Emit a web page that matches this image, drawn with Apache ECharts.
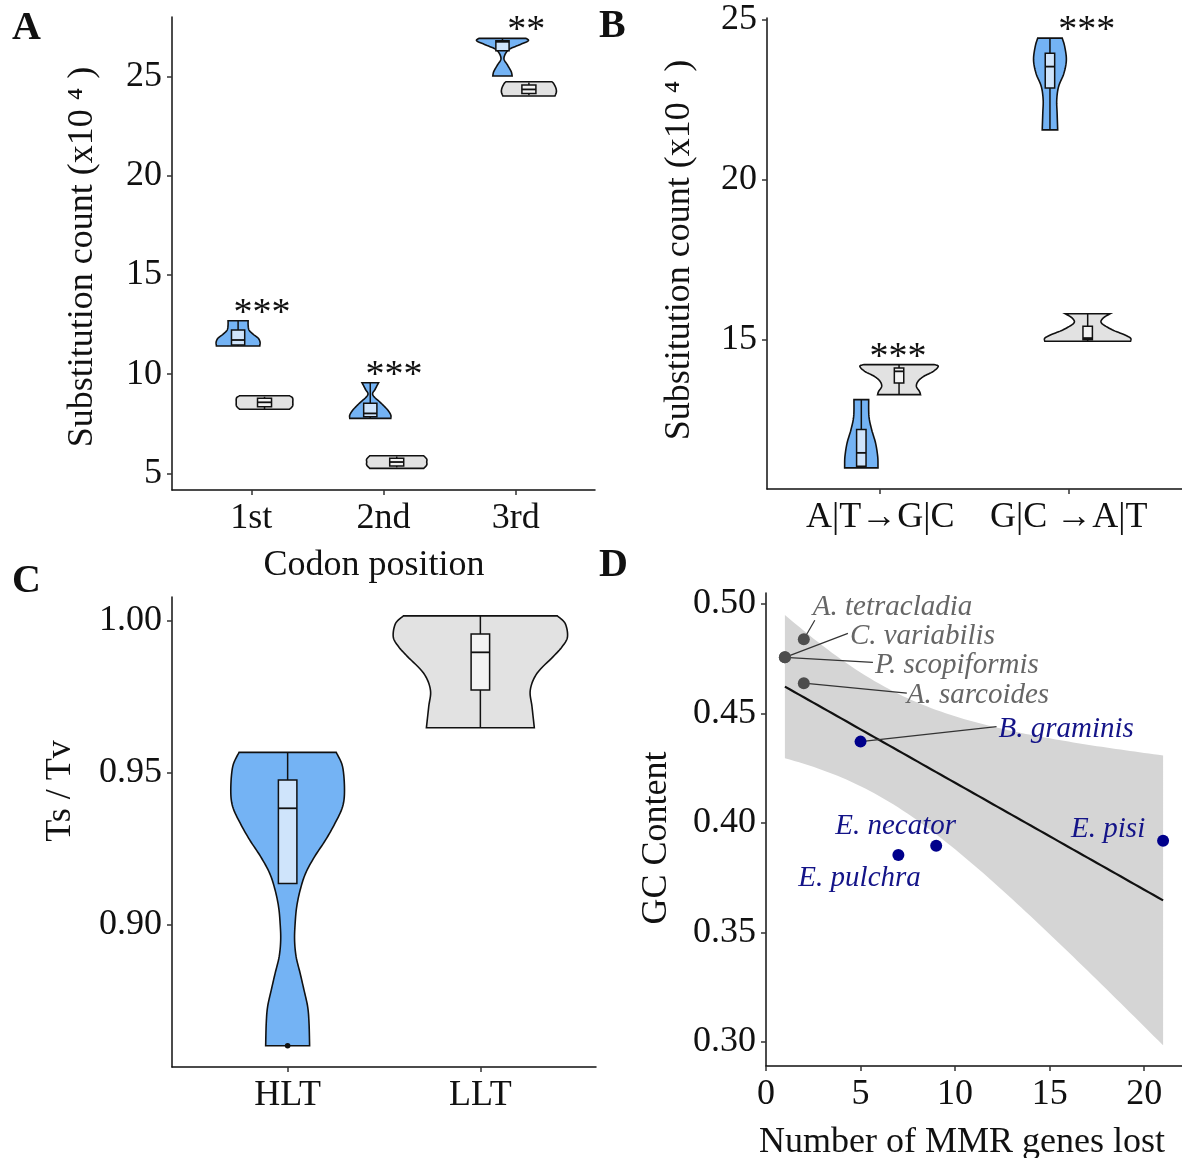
<!DOCTYPE html>
<html>
<head>
<meta charset="utf-8">
<title>Substitutions and GC content</title>
<script src="https://cdn.jsdelivr.net/npm/echarts@6/dist/echarts.min.js"></script>
<style>
  html, body { margin: 0; padding: 0; background: #fff; }
  #main { width: 1182px; height: 1158px; }
</style>
</head>
<body>
<div id="main"></div>
<script>
var FONT = '"Liberation Serif", "Times New Roman", serif';
var BLUE = '#74b3f4', BLUE_BOX = '#cfe4fb', GREY = '#e2e2e2', GREY_BOX = '#f3f3f3';

// ---- A: substitution count (x10^4) by codon position ----
var codonCats = ['1st', '2nd', '3rd'];
// violin outlines, bottom to top: [value, half width in category units]
var codonHLT = [
    [[11.42,0.164],[11.62,0.166],[11.82,0.151],[12.02,0.113],[12.22,0.083],[12.47,0.076],[12.69,0.076]],
    [[7.77,0.155],[7.94,0.155],[8.19,0.132],[8.53,0.083],[8.95,0.019],[9.25,0.038],[9.567,0.063]],
    [[25.03,0.073],[25.25,0.066],[25.58,0.038],[25.92,0.011],[26.34,0.045],[26.59,0.126],[26.80,0.195],[26.925,0.178]]
];
var codonLLT = [
    [[8.23,0.189],[8.39,0.212],[8.59,0.214],[8.80,0.212],[8.91,0.189]],
    [[5.25,0.204],[5.42,0.227],[5.57,0.227],[5.72,0.227],[5.887,0.204]],
    [[24.02,0.197],[24.22,0.208],[24.42,0.204],[24.63,0.189],[24.74,0.174]]
];
// box stats: [low whisker, q1, median, q3, high whisker]
var codonHLTBox = [[11.42,11.47,11.72,12.22,12.69],[7.77,7.85,8.02,8.53,9.567],[26.30,26.30,26.75,26.80,26.925]];
var codonLLTBox = [[8.23,8.36,8.58,8.78,8.86],[5.30,5.37,5.57,5.756,5.85],[24.05,24.15,24.35,24.57,24.70]];
var codonSig = ['***', '***', '**'];

// ---- B: substitution count by direction ----
var dirCats = ['A|T\u2192G|C', 'G|C \u2192A|T'];
var dirHLT = [
    [[10.99,0.0884],[11.04,0.0884],[11.35,0.0868],[11.77,0.0754],[12.19,0.0546],[12.60,0.0405],[13.125,0.039]],
    [[21.56,0.041],[22.08,0.038],[22.50,0.036],[22.92,0.046],[23.33,0.074],[23.75,0.087],[24.17,0.078],[24.43,0.065]]
];
var dirLLT = [
    [[13.28,0.114],[13.385,0.108],[13.54,0.092],[13.70,0.101],[13.85,0.130],[14.01,0.182],[14.167,0.208],[14.22,0.187]],
    [[14.95,0.227],[15.05,0.227],[15.16,0.192],[15.31,0.130],[15.52,0.073],[15.68,0.083],[15.81,0.119]]
];
var dirHLTBox = [[10.99,11.04,11.46,12.19,13.125],[21.56,22.87,23.54,23.96,24.43]];
var dirLLTBox = [[13.28,13.647,14.01,14.115,14.22],[14.95,15.00,15.05,15.42,15.81]];
var dirSig = ['***', '***'];

// ---- C: Ts / Tv ----
var ltCats = ['HLT', 'LLT'];
var tstvProfiles = [
    [[0.8603,0.114],[0.8677,0.111],[0.8731,0.104],[0.8786,0.085],[0.8841,0.065],[0.8896,0.044],[0.8951,0.036],
     [0.9006,0.039],[0.9060,0.047],[0.9115,0.065],[0.9170,0.093],[0.9225,0.140],[0.9280,0.197],[0.9335,0.246],
     [0.9389,0.285],[0.9444,0.295],[0.9521,0.285],[0.9568,0.252]],
    [[0.9649,0.280],[0.9718,0.268],[0.9773,0.259],[0.9828,0.294],[0.9883,0.378],[0.9916,0.425],[0.9948,0.452],
     [0.9992,0.440],[1.0017,0.399]]
];
var tstvBoxes = [[0.9137,0.9137,0.9384,0.9477,0.9568],[0.9649,0.9773,0.9897,0.9957,1.0017]];
var tstvOutliers = [[0.8603], []];

// ---- D: GC content vs MMR genes lost ----
var species = ['A. tetracladia','C. variabilis','P. scopiformis','A. sarcoides','B. graminis','E. necator','E. pulchra','E. pisi'];
var mmrLost = [2, 1, 1, 2, 5, 9, 7, 21];
var gcContent = [0.4839, 0.4756, 0.4756, 0.4638, 0.4371, 0.3895, 0.3853, 0.3918];
var speciesGroup = ['LLT','LLT','LLT','LLT','HLT','HLT','HLT','HLT'];
// label placement in px from the point: [dx, dy, lineEndDx, lineEndDy]
var labelNudge = [[9,-32,11,-19],[65,-21,63,-24],[90,8,88,5],[103,12,103,10],[138,-12,136,-15],[-101,-19],[-100,23],[-92,-11]];

function spline(pts) {
    if (pts.length < 3) return pts;
    var out = [], n = 8;
    for (var i = 0; i < pts.length - 1; i++) {
        var p0 = pts[Math.max(i - 1, 0)], p1 = pts[i], p2 = pts[i + 1], p3 = pts[Math.min(i + 2, pts.length - 1)];
        for (var k = 0; k < n; k++) {
            var t = k / n, t2 = t * t, t3 = t2 * t;
            out.push([0, 1].map(function (d) {
                return 0.5 * (2 * p1[d] + (p2[d] - p0[d]) * t +
                    (2 * p0[d] - 5 * p1[d] + 4 * p2[d] - p3[d]) * t2 +
                    (3 * p1[d] - p0[d] - 3 * p2[d] + p3[d]) * t3);
            }));
        }
    }
    out.push(pts[pts.length - 1]);
    return out;
}

function violinSeries(ax, profiles, boxes, xs, fill, boxFill, boxHalf, outliers) {
    return {
        type: 'custom', xAxisIndex: ax, yAxisIndex: ax, clip: false, z: 3,
        data: xs.map(function (x, i) { return [x, boxes[i][2]]; }),
        renderItem: function (params, api) {
            var i = params.dataIndex, xc = api.value(0), prof = profiles[i], b = boxes[i];
            var p = function (dx, v) { return api.coord([xc + dx, v]); };
            var right = prof.map(function (d) { return p(d[1], d[0]); });
            var left = prof.map(function (d) { return p(-d[1], d[0]); });
            var outline = spline(right).concat(spline(left).reverse());
            var lo = p(0, b[0]), q1 = p(0, b[1]), q3 = p(0, b[3]), hi = p(0, b[4]);
            var tl = p(-boxHalf, b[3]), br = p(boxHalf, b[1]);
            var ml = p(-boxHalf, b[2]), mr = p(boxHalf, b[2]);
            var st = { stroke: '#111', lineWidth: 1.5 };
            var kids = [
                { type: 'polygon', shape: { points: outline }, style: { fill: fill, stroke: '#111', lineWidth: 1.6 } },
                { type: 'line', shape: { x1: hi[0], y1: hi[1], x2: q3[0], y2: q3[1] }, style: st },
                { type: 'line', shape: { x1: q1[0], y1: q1[1], x2: lo[0], y2: lo[1] }, style: st },
                { type: 'rect', shape: { x: tl[0], y: tl[1], width: br[0] - tl[0], height: br[1] - tl[1] },
                  style: { fill: boxFill, stroke: '#111', lineWidth: 1.5 } },
                { type: 'line', shape: { x1: ml[0], y1: ml[1], x2: mr[0], y2: mr[1] }, style: { stroke: '#111', lineWidth: 1.8 } }
            ];
            ((outliers && outliers[i]) || []).forEach(function (v) {
                var o = p(0, v);
                kids.push({ type: 'circle', shape: { cx: o[0], cy: o[1], r: 2.8 }, style: { fill: '#111' } });
            });
            return { type: 'group', children: kids };
        }
    };
}

function sigSeries(ax, profA, profB, labels, shift) {
    return {
        type: 'custom', xAxisIndex: ax, yAxisIndex: ax, clip: false, z: 4,
        data: labels.map(function (s, i) {
            var top = Math.max(profA[i][profA[i].length - 1][0], profB[i][profB[i].length - 1][0]);
            return [i + 1 + shift, top];
        }),
        renderItem: function (params, api) {
            var pt = api.coord([api.value(0), api.value(1)]);
            return { type: 'text', x: pt[0], y: pt[1] - 7,
                style: { text: labels[params.dataIndex], fontSize: 38, fontFamily: FONT, fill: '#111',
                         align: 'center', verticalAlign: 'middle' } };
        }
    };
}

// least squares fit with 95% confidence band (t, df = 6)
function olsBand(xs, ys) {
    var n = xs.length, mx = 0, my = 0, sxx = 0, sxy = 0, sse = 0, i;
    for (i = 0; i < n; i++) { mx += xs[i] / n; my += ys[i] / n; }
    for (i = 0; i < n; i++) { sxx += (xs[i] - mx) * (xs[i] - mx); sxy += (xs[i] - mx) * (ys[i] - my); }
    var b = sxy / sxx, a = my - b * mx;
    for (i = 0; i < n; i++) { sse += Math.pow(ys[i] - a - b * xs[i], 2); }
    var s = Math.sqrt(sse / (n - 2)), t = 2.446912;
    var x0 = Math.min.apply(null, xs), x1 = Math.max.apply(null, xs), out = [];
    for (var k = 0; k <= 80; k++) {
        var x = x0 + (x1 - x0) * k / 80, yh = a + b * x;
        var se = s * Math.sqrt(1 / n + (x - mx) * (x - mx) / sxx);
        out.push([x, yh, yh - t * se, yh + t * se]);
    }
    return out;
}
var band = olsBand(mmrLost, gcContent);

function xAx(idx, min, max, ticks, fmt) {
    return {
        type: 'value', gridIndex: idx, min: min, max: max,
        axisLine: { onZero: false, lineStyle: { color: '#111', width: 1.5 } },
        axisTick: { customValues: ticks, length: 5, lineStyle: { color: '#333', width: 1.5 } },
        axisLabel: { customValues: ticks, formatter: fmt, margin: 11, fontFamily: FONT, fontSize: 36, color: '#111' },
        splitLine: { show: false }
    };
}
function yAx(idx, min, max, ticks, fmt) {
    return {
        type: 'value', gridIndex: idx, min: min, max: max,
        axisLine: { onZero: false, lineStyle: { color: '#111', width: 1.5 } },
        axisTick: { customValues: ticks, length: 5, lineStyle: { color: '#333', width: 1.5 } },
        axisLabel: { customValues: ticks, formatter: fmt, margin: 10, fontFamily: FONT, fontSize: 36, color: '#111' },
        splitLine: { show: false }
    };
}
function catFmt(cats) { return function (v) { return cats[Math.round(v) - 1]; }; }
function fix2(v) { return v.toFixed(2); }

function txt(x, y, s, size, rot, extra) {
    var style = { text: s, fontFamily: FONT, fontSize: size, fill: '#111', align: 'center', verticalAlign: 'middle' };
    for (var k in extra) style[k] = extra[k];
    return { type: 'text', x: x, y: y, rotation: rot || 0, style: style };
}

var hltIdx = [], lltIdx = [];
speciesGroup.forEach(function (g, i) { (g === 'HLT' ? hltIdx : lltIdx).push(i); });

var option = {
    animation: false,
    backgroundColor: '#fff',
    grid: [
        { left: 172, top: 17, width: 423, height: 473 },
        { left: 767, top: 18, width: 423, height: 471 },
        { left: 172, top: 597, width: 424, height: 470 },
        { left: 766, top: 593, width: 424, height: 473 }
    ],
    xAxis: [
        xAx(0, 0.4, 3.6, [1, 2, 3], catFmt(codonCats)),
        xAx(1, 0.4, 2.6, [1, 2], catFmt(dirCats)),
        xAx(2, 0.4, 2.6, [1, 2], catFmt(ltCats)),
        xAx(3, 0, 22, [0, 5, 10, 15, 20], function (v) { return String(v); })
    ],
    yAxis: [
        yAx(0, 4.16, 28.0, [5, 10, 15, 20, 25], function (v) { return String(v); }),
        yAx(1, 10.33, 25.06, [15, 20, 25], function (v) { return String(v); }),
        yAx(2, 0.8533, 1.0079, [0.90, 0.95, 1.00], fix2),
        yAx(3, 0.2889, 0.505, [0.30, 0.35, 0.40, 0.45, 0.50], fix2)
    ],
    graphic: [
        txt(12, 29, 'A', 40, 0, { fontWeight: 'bold', align: 'left' }),
        txt(599, 27, 'B', 40, 0, { fontWeight: 'bold', align: 'left' }),
        txt(12, 582, 'C', 40, 0, { fontWeight: 'bold', align: 'left' }),
        txt(599, 566, 'D', 40, 0, { fontWeight: 'bold', align: 'left' }),
        txt(83, 257, 'Substitution count (x10 \u2074 )', 36, Math.PI / 2),
        txt(680, 250, 'Substitution count (x10 \u2074 )', 36, Math.PI / 2),
        txt(61, 791, 'Ts / Tv', 36, Math.PI / 2),
        txt(657, 838, 'GC Content', 36, Math.PI / 2),
        txt(374, 566, 'Codon position', 36, 0),
        txt(962, 1143, 'Number of MMR genes lost', 36, 0)
    ],
    series: [
        violinSeries(0, codonHLT, codonHLTBox, [0.9, 1.9, 2.9], BLUE, BLUE_BOX, 0.05),
        violinSeries(0, codonLLT, codonLLTBox, [1.1, 2.1, 3.1], GREY, GREY_BOX, 0.053),
        sigSeries(0, codonHLT, codonLLT, codonSig, 0.08),
        violinSeries(1, dirHLT, dirHLTBox, [0.9, 1.9], BLUE, BLUE_BOX, 0.025),
        violinSeries(1, dirLLT, dirLLTBox, [1.1, 2.1], GREY, GREY_BOX, 0.025),
        sigSeries(1, dirHLT, dirLLT, dirSig, 0.095),
        violinSeries(2, tstvProfiles, tstvBoxes, [1, 2], null, null, 0.048, tstvOutliers),
        {
            type: 'custom', xAxisIndex: 3, yAxisIndex: 3, z: 1, clip: false,
            data: [0],
            renderItem: function (params, api) {
                var up = band.map(function (d) { return api.coord([d[0], d[3]]); });
                var dn = band.map(function (d) { return api.coord([d[0], d[2]]); }).reverse();
                return { type: 'polygon', shape: { points: up.concat(dn) }, style: { fill: '#d5d5d5' } };
            }
        },
        {
            type: 'line', xAxisIndex: 3, yAxisIndex: 3, z: 2, showSymbol: false, silent: true,
            data: band.map(function (d) { return [d[0], d[1]]; }),
            lineStyle: { color: '#111', width: 2.2 }
        },
        {
            type: 'custom', xAxisIndex: 3, yAxisIndex: 3, z: 3, clip: false,
            data: species.map(function (s, i) { return [mmrLost[i], gcContent[i]]; }),
            renderItem: function (params, api) {
                var i = params.dataIndex, pt = api.coord([api.value(0), api.value(1)]), nd = labelNudge[i];
                var kids = [];
                if (nd.length > 2) {
                    kids.push({ type: 'line', shape: { x1: pt[0], y1: pt[1], x2: pt[0] + nd[2], y2: pt[1] + nd[3] },
                                style: { stroke: '#333', lineWidth: 1.2 } });
                }
                kids.push({ type: 'text', x: pt[0] + nd[0], y: pt[1] + nd[1],
                    style: { text: species[i], fontFamily: FONT, fontSize: 29, fontStyle: 'italic',
                             fill: speciesGroup[i] === 'HLT' ? '#141488' : '#666666',
                             align: 'left', verticalAlign: 'middle' } });
                return { type: 'group', children: kids };
            }
        },
        {
            type: 'scatter', xAxisIndex: 3, yAxisIndex: 3, z: 4, symbolSize: 12,
            itemStyle: { color: '#4d4d4d', opacity: 1 },
            data: lltIdx.map(function (i) { return [mmrLost[i], gcContent[i]]; })
        },
        {
            type: 'scatter', xAxisIndex: 3, yAxisIndex: 3, z: 4, symbolSize: 12,
            itemStyle: { color: '#00008b', opacity: 1 },
            data: hltIdx.map(function (i) { return [mmrLost[i], gcContent[i]]; })
        }
    ]
};

// C has one colour per category
option.series[6].renderItem = (function (base) {
    return function (params, api) {
        var g = base(params, api);
        var dark = params.dataIndex === 0;
        g.children[0].style.fill = dark ? BLUE : GREY;
        g.children[3].style.fill = dark ? BLUE_BOX : GREY_BOX;
        return g;
    };
})(option.series[6].renderItem);

var chart = echarts.init(document.getElementById('main'));
chart.setOption(option);
</script>
</body>
</html>
